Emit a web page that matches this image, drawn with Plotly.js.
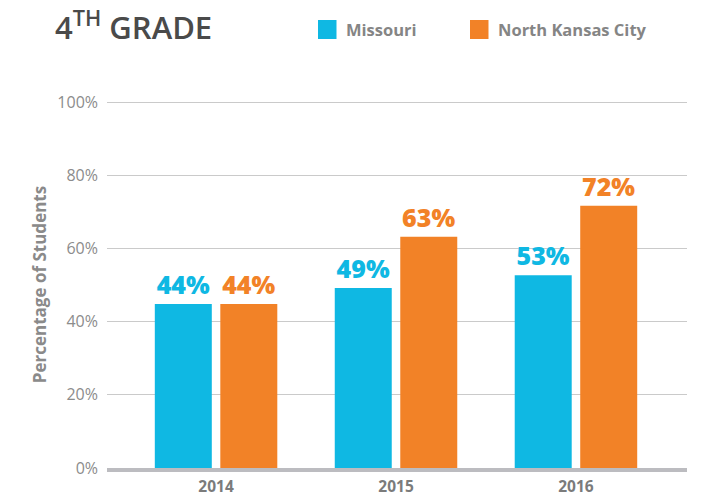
<!DOCTYPE html>
<html>
<head>
<meta charset="utf-8">
<script src="https://cdn.plot.ly/plotly-3.0.1.min.js"></script>
<style>html,body{margin:0;padding:0;background:#fff;}#chart{width:703px;height:496px;}</style>
</head>
<body>
<div id="chart"></div>
<script>
const years = ["2014", "2015", "2016"];
const seriesNames = ["Missouri", "North Kansas City"];
const missouriValues = [44.8, 49.2, 52.7];
const nkcValues = [44.8, 63.2, 71.7];
const missouriLabels = ["44%", "49%", "53%"];
const nkcLabels = ["44%", "63%", "72%"];
const yTickValues = [0, 20, 40, 60, 80, 100];
const yTickLabels = ["0%", "20%", "40%", "60%", "80%", "100%"];

const cyan = "#0fb8e3";
const orange = "#f28227";
const FONT = "Open Sans";

const traces = [
  {type: "bar", name: seriesNames[0], x: years, y: missouriValues, text: missouriLabels,
   textposition: "outside", cliponaxis: false, constraintext: "none",
   textfont: {family: FONT, size: 25, color: cyan, weight: 800},
   marker: {color: cyan}, hoverinfo: "none", showlegend: false},
  {type: "bar", name: seriesNames[1], x: years, y: nkcValues, text: nkcLabels,
   textposition: "outside", cliponaxis: false, constraintext: "none",
   textfont: {family: FONT, size: 25, color: orange, weight: 800},
   marker: {color: orange}, hoverinfo: "none", showlegend: false}
];

const plotL = 107, plotR = 687, plotT = 101, plotB = 468;
const W = 703, H = 496;
const yMax = 100.3;
function px(x){ return (x - plotL) / (plotR - plotL); }
function py(y){ return (plotB - y) / (plotB - plotT); }

const legendItems = [
  {name: seriesNames[0], color: cyan, x0: 318},
  {name: seriesNames[1], color: orange, x0: 470}
];
const shapes = legendItems.map(it => ({
  type: "rect", xref: "paper", yref: "paper",
  x0: px(it.x0), x1: px(it.x0 + 18.5), y0: py(39), y1: py(20),
  fillcolor: it.color, line: {width: 0}
}));
const annotations = legendItems.map(it => ({
  xref: "paper", yref: "paper", x: px(it.x0 + 26), y: py(30),
  xanchor: "left", yanchor: "middle", showarrow: false, text: it.name,
  font: {family: FONT, size: 16.5, color: "#858585", weight: 700}
}));

const layout = {
  width: W, height: H,
  margin: {l: plotL, r: W - plotR, t: plotT, b: H - plotB},
  paper_bgcolor: "#ffffff", plot_bgcolor: "#ffffff",
  title: {text: "4<sup>TH</sup> GRADE", x: 55 / W, xanchor: "left", xref: "container",
          y: 1 - 28 / H, yanchor: "middle", yref: "container",
          font: {family: FONT, size: 31, color: "#4a4a4a", weight: 600}},
  barmode: "group", bargap: 0.272, bargroupgap: 0.13,
  xaxis: {type: "category", range: [-0.606, 2.617], showgrid: false, zeroline: false,
          showline: true, linewidth: 4, linecolor: "#bcbcc0", ticks: "",
          ticklabelstandoff: 1,
          tickfont: {family: FONT, size: 15.5, color: "#7b7b7b", weight: 700}},
  yaxis: {range: [0, yMax], tickvals: yTickValues, ticktext: yTickLabels,
          showgrid: true, gridcolor: "#cacaca", gridwidth: 1, zeroline: false,
          showline: false, ticks: "", ticklabelstandoff: 8,
          tickfont: {family: FONT, size: 16, color: "#8c8c8c", weight: 400},
          title: {text: "Percentage of Students", standoff: 6,
                  font: {family: FONT, size: 17, color: "#8a8a8a", weight: 700}}},
  shapes: shapes,
  annotations: annotations,
  showlegend: false
};

Plotly.newPlot("chart", traces, layout, {displayModeBar: false, staticPlot: true});
</script>
</body>
</html>
